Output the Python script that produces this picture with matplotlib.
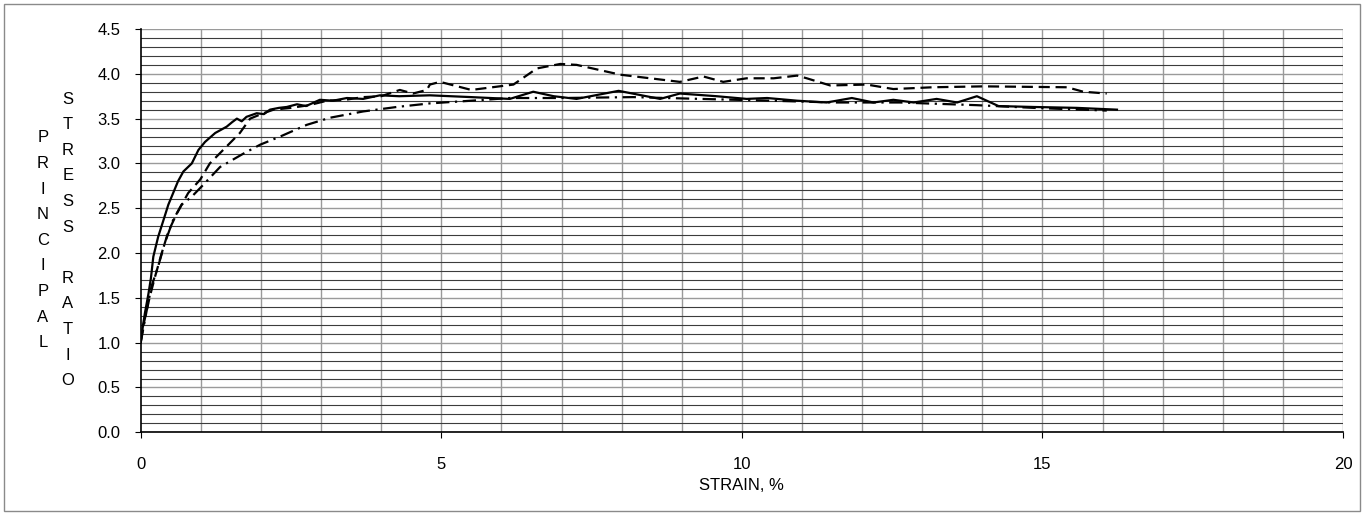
import matplotlib
matplotlib.use("Agg")
import matplotlib.pyplot as plt
from matplotlib.patches import Rectangle
from matplotlib.ticker import MultipleLocator

plt.rcParams['font.family'] = ['Liberation Sans', 'DejaVu Sans']

# ---- data ----
solid_x = [0.0, 0.04, 0.07, 0.13, 0.17, 0.21, 0.29, 0.38, 0.46, 0.54, 0.62, 0.71, 0.85, 0.96, 1.07,
           1.24, 1.43, 1.52, 1.60, 1.68, 1.76, 1.93, 2.05, 2.15, 2.30, 2.43, 2.60, 2.75, 2.98, 3.2,
           3.43, 3.7, 3.98, 4.3, 4.81, 5.5, 6.14, 6.53, 6.87, 7.25, 7.95, 8.64, 8.97, 9.58, 10.08,
           10.42, 10.92, 11.41, 11.83, 12.19, 12.52, 12.86, 13.24, 13.58, 13.91, 14.27, 14.85,
           15.57, 16.24]
solid_y = [1.01, 1.20, 1.33, 1.55, 1.72, 1.96, 2.18, 2.37, 2.54, 2.67, 2.80, 2.91, 3.00, 3.15, 3.24,
           3.34, 3.41, 3.46, 3.50, 3.47, 3.52, 3.56, 3.55, 3.60, 3.62, 3.63, 3.66, 3.64, 3.71, 3.70,
           3.73, 3.72, 3.76, 3.75, 3.76, 3.74, 3.72, 3.80, 3.75, 3.72, 3.81, 3.72, 3.78, 3.75, 3.72,
           3.73, 3.70, 3.68, 3.73, 3.68, 3.71, 3.68, 3.72, 3.68, 3.75, 3.64, 3.63, 3.62, 3.60]

dashed_x = [0.0, 0.04, 0.15, 0.24, 0.35, 0.46, 0.60, 0.79, 0.99, 1.15, 1.43, 1.65, 1.82, 2.04,
            2.21, 2.5, 2.8, 3.1, 3.4, 3.7, 4.0, 4.31, 4.53, 4.76, 4.81, 4.98, 5.5, 6.2, 6.59,
            6.98, 7.25, 7.98, 8.97, 9.36, 9.69, 10.08, 10.53, 10.92, 11.08, 11.47, 12.08,
            12.52, 13.18, 14.02, 15.41, 15.68, 16.07]
dashed_y = [1.00, 1.18, 1.51, 1.74, 2.00, 2.24, 2.44, 2.67, 2.82, 3.00, 3.19, 3.34, 3.50, 3.56,
            3.60, 3.62, 3.65, 3.70, 3.71, 3.74, 3.75, 3.82, 3.78, 3.82, 3.88, 3.91, 3.82, 3.88,
            4.06, 4.11, 4.10, 3.99, 3.91, 3.97, 3.91, 3.95, 3.95, 3.98, 3.95, 3.87, 3.88,
            3.83, 3.85, 3.86, 3.85, 3.80, 3.78]

dashdot_x = [0.0, 0.10, 0.18, 0.29, 0.40, 0.54, 0.68, 0.85, 1.01, 1.32, 1.71, 1.99, 2.32, 2.76,
             3.15, 3.70, 4.26, 4.81, 5.5, 6.14, 7.0, 8.19, 9.31, 10.5, 11.52, 12.63, 13.91,
             14.85, 16.07]
dashdot_y = [1.00, 1.36, 1.63, 1.85, 2.11, 2.37, 2.54, 2.63, 2.74, 2.96, 3.11, 3.21, 3.30, 3.43,
             3.51, 3.58, 3.63, 3.67, 3.70, 3.73, 3.73, 3.74, 3.72, 3.70, 3.68, 3.68, 3.65,
             3.62, 3.59]

x_ticks = [0, 5, 10, 15, 20]
y_ticks = [0.0, 0.5, 1.0, 1.5, 2.0, 2.5, 3.0, 3.5, 4.0, 4.5]
x_label = "STRAIN, %"
y_label_1 = "PRINCIPAL"
y_label_2 = "STRESS RATIO"

W, H = 1364, 514
fig = plt.figure(figsize=(W / 100, H / 100), dpi=100)
left, right, top, bottom = 140.7, 1343, 29, 432.3
ax = fig.add_axes([left / W, 1 - bottom / H, (right - left) / W, (bottom - top) / H])

# grid
for v in range(1, 21):
    ax.axvline(v, color='#9a9a9a', lw=1.0, zorder=0)
for i in range(0, 46):
    yv = i / 10
    major = (i % 5 == 0)
    ax.axhline(yv, color='#9a9a9a' if major else '#3c3c3c', lw=1.0 if major else 0.8, zorder=0)

lw = 1.6
ax.plot(solid_x, solid_y, color='black', lw=lw, solid_joinstyle='round', zorder=3)
ax.plot(dashed_x, dashed_y, color='black', lw=lw, dashes=(5, 2.6), zorder=3)
ax.plot(dashdot_x, dashdot_y, color='black', lw=lw, dashes=(6, 2.5, 1, 2.5), zorder=3)

ax.set_xlim(0, 20)
ax.set_ylim(0, 4.5)
ax.set_xticks(x_ticks)
ax.set_xticklabels([str(t) for t in x_ticks])
ax.set_yticks(y_ticks)
ax.set_yticklabels([f"{t:.1f}" for t in y_ticks])
ax.tick_params(axis='x', length=4, width=0.8, pad=14, labelsize=12, direction='out')
ax.tick_params(axis='y', length=4, width=0.8, pad=10.5, labelsize=12, direction='out')
for s in ['top', 'right']:
    ax.spines[s].set_visible(False)
for s in ['left', 'bottom']:
    ax.spines[s].set_color('black')
    ax.spines[s].set_linewidth(1.2)

fig.text((left + right) / 2 / W, 1 - 486 / H, x_label, ha='center', va='center', fontsize=12)

for i, ch in enumerate(y_label_1):
    fig.text(43 / W, 1 - (138 + 25.6 * i) / H, ch, ha='center', va='center', fontsize=12)
for i, ch in enumerate(y_label_2):
    if ch != ' ':
        fig.text(68 / W, 1 - (99 + 25.6 * i) / H, ch, ha='center', va='center', fontsize=12)

fig.patches.append(Rectangle((4 / W, 3 / H), (W - 8) / W, (H - 7) / H, transform=fig.transFigure,
                             fill=False, edgecolor='#8a8a8a', lw=1.0))

fig.savefig("out.png", dpi=100)
